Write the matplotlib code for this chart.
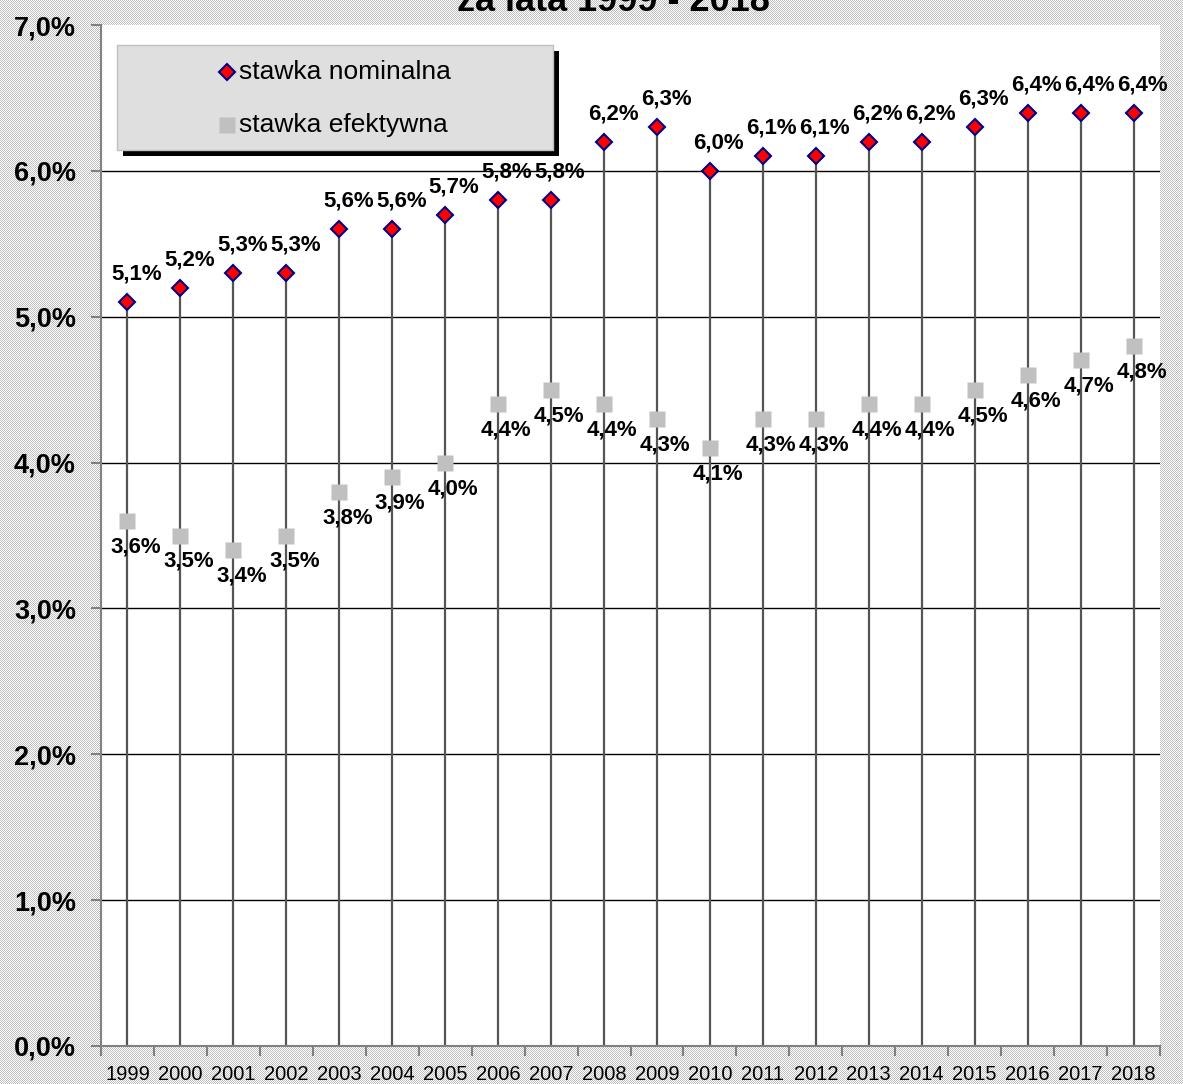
import numpy as np
import matplotlib
matplotlib.use('Agg')
import matplotlib.pyplot as plt
from matplotlib.patches import Rectangle

plt.rcParams['font.family'] = ['Liberation Sans', 'DejaVu Sans']

# data
years = [str(y) for y in range(1999, 2019)]
nominal = [5.1, 5.2, 5.3, 5.3, 5.6, 5.6, 5.7, 5.8, 5.8, 6.2,
           6.3, 6.0, 6.1, 6.1, 6.2, 6.2, 6.3, 6.4, 6.4, 6.4]
effective = [3.6, 3.5, 3.4, 3.5, 3.8, 3.9, 4.0, 4.4, 4.5, 4.4,
             4.3, 4.1, 4.3, 4.3, 4.4, 4.4, 4.5, 4.6, 4.7, 4.8]
series_names = ['stawka nominalna', 'stawka efektywna']
title = 'za lata 1999 - 2018'
y_ticks = [0, 1, 2, 3, 4, 5, 6, 7]


def pct(v):
    return f'{v:.1f}%'.replace('.', ',')


W, H = 1183, 1084
fig = plt.figure(figsize=(W / 100, H / 100), dpi=100)

# checkered excel-like background
yy, xx = np.mgrid[0:H, 0:W]
chk = ((xx + yy) % 2).astype(float)
bg = np.empty((H, W, 3))
for c in range(3):
    bg[:, :, c] = 0.75 + 0.25 * chk
fig.figimage(bg, xo=0, yo=0, zorder=-5)

ax = fig.add_axes([101 / W, 1 - 1046 / H, 1059 / W, 1021 / H])
ax.set_facecolor('white')
x = np.arange(len(years))

# drop lines and gridlines
ax.vlines(x, 0, nominal, color='#555555', lw=1.6, zorder=2)
for t in y_ticks[1:-1]:
    ax.axhline(t, color='black', lw=1, zorder=1)

ax.plot(x, nominal, ls='none', marker='D', ms=8, mfc='red', mec='#000080',
        mew=1.5, zorder=4)
ax.plot(x, effective, ls='none', marker='s', ms=11, mfc='#c0c0c0', mec='none',
        zorder=4)

for xi, v in zip(x, nominal):
    ax.annotate(pct(v), (xi, v), xytext=(9, 28), textcoords='offset pixels',
                ha='center', va='center', fontsize=16, fontweight='bold', zorder=5)
for xi, v in zip(x, effective):
    ax.annotate(pct(v), (xi, v), xytext=(8, -26), textcoords='offset pixels',
                ha='center', va='center', fontsize=16, fontweight='bold', zorder=5)

ax.set_xlim(-0.5, len(years) - 0.5)
ax.set_ylim(0, 7)
ax.set_yticks(y_ticks)
ax.set_yticklabels([pct(t) for t in y_ticks], fontsize=19.5, fontweight='bold')
ax.set_xticks(x)
ax.set_xticklabels(years, fontsize=14.5)
ax.set_xticks(np.arange(-0.5, len(years)), minor=True)
ax.tick_params(axis='x', which='major', length=0, pad=14)
ax.tick_params(axis='x', which='minor', length=7, color='#808080', width=1.5)
ax.tick_params(axis='y', length=7, color='#808080', width=1.5, pad=11)
for s in ['top', 'right']:
    ax.spines[s].set_visible(False)
for s in ['left', 'bottom']:
    ax.spines[s].set_color('#808080')
    ax.spines[s].set_linewidth(1.5)

# legend box with black shadow
lx0, ly0, lw_, lh_ = 16 / 1059, (1046 - 150) / 1021, 436 / 1059, 105 / 1021
ax.add_patch(Rectangle((lx0 + 6 / 1059, ly0 - 6 / 1021), lw_, lh_, transform=ax.transAxes,
                       facecolor='black', edgecolor='none', zorder=6, clip_on=False))
ax.add_patch(Rectangle((lx0, ly0), lw_, lh_, transform=ax.transAxes,
                       facecolor='#dfdfdf', edgecolor='#c0c0c0', lw=1, zorder=7, clip_on=False))
rows = [(1046 - 72) / 1021, (1046 - 125) / 1021]
ax.plot([126 / 1059], [rows[0]], transform=ax.transAxes, marker='D', ms=8, mfc='red',
        mec='#000080', mew=1.5, zorder=8, clip_on=False)
ax.plot([126 / 1059], [rows[1]], transform=ax.transAxes, marker='s', ms=11,
        mfc='#c0c0c0', mec='none', zorder=8, clip_on=False)
for ry, name in zip(rows, series_names):
    ax.text(138 / 1059, ry, name, transform=ax.transAxes, fontsize=19,
            va='center', ha='left', zorder=8)

fig.text(613 / W, 1 - 11 / H, title, fontsize=26, fontweight='bold',
         ha='center', va='baseline')

fig.savefig('out.png', dpi=100)
